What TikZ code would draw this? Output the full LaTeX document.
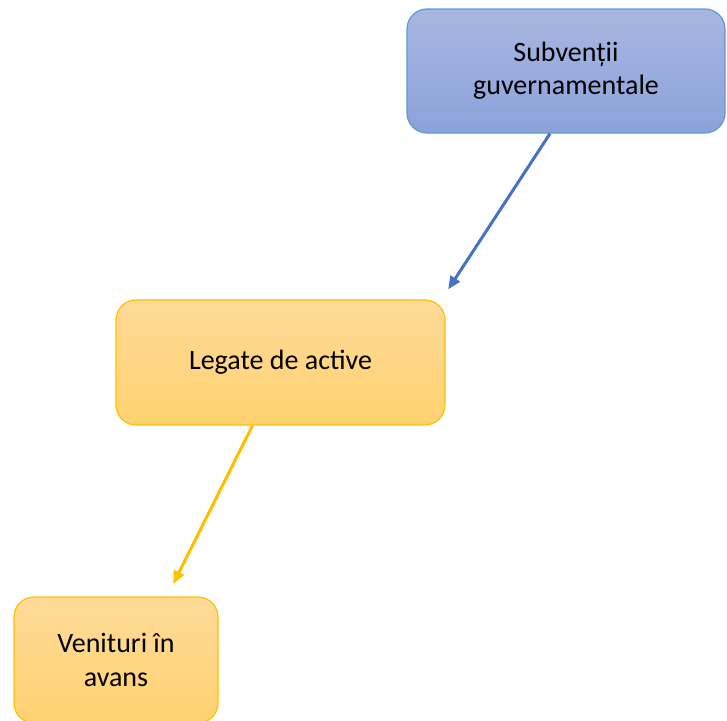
\documentclass[tikz,border=0pt]{standalone}
\usepackage{fontspec}
\setmainfont{Carlito}
\usetikzlibrary{arrows.meta,shapes}

\definecolor{boxblue}{RGB}{91,155,213}
\definecolor{blueTop}{RGB}{168,183,225}
\definecolor{blueBot}{RGB}{139,162,218}
\definecolor{linkblue}{RGB}{68,114,196}
\definecolor{boxgold}{RGB}{255,192,0}
\definecolor{goldTop}{RGB}{255,218,153}
\definecolor{goldBot}{RGB}{255,210,112}

\begin{document}
\begin{tikzpicture}[x=1pt,y=-1pt,
  bluebox/.style={draw=boxblue, line width=1.2pt, rounded corners=20pt,
    top color=blueTop, bottom color=blueBot, align=center, inner sep=0pt,
    font=\fontsize{28}{33}\selectfont},
  goldbox/.style={draw=boxgold, line width=1.2pt, rounded corners=20pt,
    top color=goldTop, bottom color=goldBot, align=center, inner sep=0pt,
    font=\fontsize{28}{34}\selectfont},
  link/.style={line width=3pt, -{Triangle[length=13pt,width=11pt]}}]

\useasboundingbox (0,0) rectangle (727,720);

% Boxes
\node[bluebox, minimum width=318pt, minimum height=124pt] (subv) at (566,71) {Subvenții\\guvernamentale};
\node[goldbox, minimum width=329pt, minimum height=125pt] (legate) at (280.5,362.5) {Legate de active};
\node[goldbox, minimum width=204pt, minimum height=126pt] (venit) at (116,660) {Venituri în\\avans};

% Links
\draw[link, linkblue, shorten >=12pt] ([xshift=-16pt]subv.south) -- ([xshift=-4pt]legate.north east);
\draw[link, boxgold, shorten >=14pt] ([xshift=-28pt]legate.south) -- ([xshift=51pt]venit.north);

\end{tikzpicture}
\end{document}
